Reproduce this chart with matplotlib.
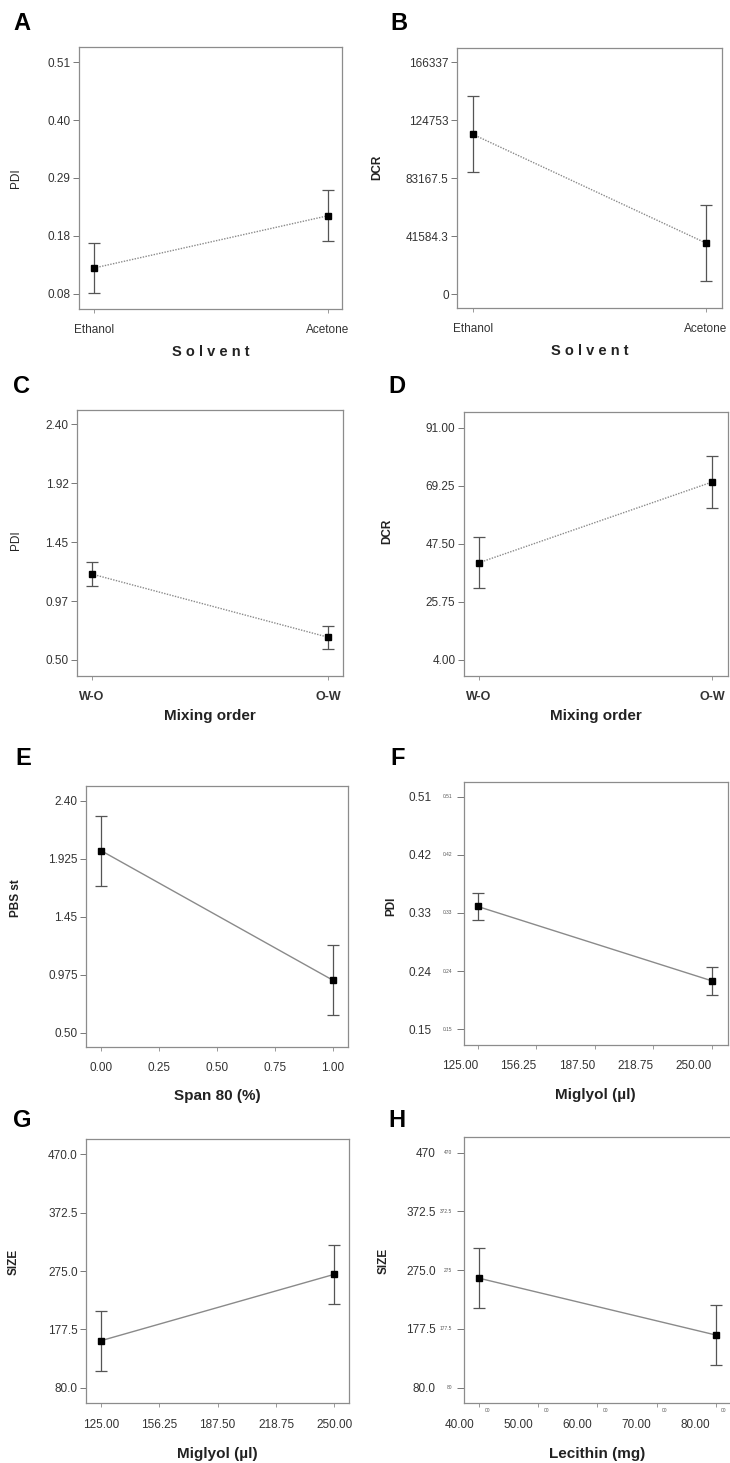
import matplotlib
matplotlib.use("Agg")
import matplotlib.pyplot as plt
import matplotlib.transforms as mtransforms
import numpy as np

plt.rcParams['font.family'] = ['Liberation Sans', 'DejaVu Sans']

# ---- data ----
solvent_cats = ['Ethanol', 'Acetone']
mixing_cats = ['W-O', 'O-W']
span_x = [0.0, 1.0]
miglyol_x = [125.0, 250.0]
lecithin_x = [40.0, 80.0]

a_pdi = [0.128, 0.225]
a_err = [0.047, 0.047]
b_dcr = [114700, 36600]
b_err = [27200, 27200]
c_pdi = [1.193, 0.683]
c_err = [0.095, 0.094]
d_dcr = [40.4, 70.7]
d_err = [9.6, 9.6]
e_pbs = [1.99, 0.93]
e_err = [0.285, 0.285]
f_pdi = [0.340, 0.225]
f_err = [0.0215, 0.0215]
g_size = [158.5, 269.5]
g_err = [50.0, 49.5]
h_size = [261.6, 167.5]
h_err = [49.7, 49.2]

a_yt = ['0.08', '0.18', '0.29', '0.40', '0.51']
b_yt = ['0', '41584.3', '83167.5', '124753', '166337']
c_yt = ['0.50', '0.97', '1.45', '1.92', '2.40']
d_yt = ['4.00', '25.75', '47.50', '69.25', '91.00']
e_yt = ['0.50', '0.975', '1.45', '1.925', '2.40']
f_yt = ['0.15', '0.24', '0.33', '0.42', '0.51']
g_yt = ['80.0', '177.5', '275.0', '372.5', '470.0']
h_yt = ['80.0', '177.5', '275.0', '372.5', '470']
h_yt_small = ['80', '177.5', '275', '372.5', '470']
e_xt = ['0.00', '0.25', '0.50', '0.75', '1.00']
mig_xt = ['125.00', '156.25', '187.50', '218.75', '250.00']
lec_xt = ['40.00', '50.00', '60.00', '70.00', '80.00']

W, H = 730, 1463
fig = plt.figure(figsize=(W / 100, H / 100), dpi=100)
fig.patch.set_facecolor('white')

TXT = '#333333'
NARROW = ['Liberation Sans Narrow', 'Liberation Sans', 'DejaVu Sans']


def make_ax(left, right, top, bottom):
    return fig.add_axes([left / W, 1 - bottom / H, (right - left) / W, (bottom - top) / H])


def letter(s, x, y):
    # x = left edge px, y = baseline px
    fig.text(x / W, 1 - y / H, s, fontsize=17, fontweight='bold', color='black',
             ha='left', va='baseline')


def panel(ax, x, y, err, ylo, yhi, yt, xlim, ylim, ylabel, xlabel,
          dotted, ylab_pos, xlab_pad, ybold=True):
    ax.plot(x, y, color='#8a8a8a', lw=1.0, ls=(0, (1, 1)) if dotted else '-', zorder=2)
    ax.errorbar(x, y, yerr=err, fmt='s', color='black', ms=3.8, ecolor='#555555',
                elinewidth=0.9, capsize=4, capthick=0.9, zorder=3)
    ax.set_xlim(*xlim)
    ax.set_ylim(*ylim)
    ax.set_yticks(np.linspace(ylo, yhi, 5))
    ax.set_yticklabels(yt)
    for s in ax.spines.values():
        s.set_color('#8c8c8c')
        s.set_linewidth(0.9)
    ax.tick_params(axis='y', direction='out', length=4, width=0.7, color='#777777',
                   labelsize=8.5, labelcolor=TXT, pad=2)
    ax.tick_params(axis='x', direction='out', length=3, width=0.7, color='#999999',
                   labelcolor=TXT, pad=8)
    ax.set_ylabel(ylabel, fontsize=8.5, color='#222222',
                  fontweight='bold' if ybold else 'normal')
    ax.yaxis.set_label_coords(*ylab_pos)
    ax.set_xlabel(xlabel, fontsize=11, fontweight='bold', color='#222222', labelpad=xlab_pad)


# A
ax = make_ax(79, 342, 47, 309)
panel(ax, [0, 1], a_pdi, a_err, 0.08, 0.51, a_yt, (-0.064, 1.06), (0.052, 0.538),
      'PDI', 'Solvent', True, (-0.217, 0.5), 6, ybold=False)
ax.set_xticks([0, 1])
ax.set_xticklabels(solvent_cats, fontsize=8.5, family=NARROW)
ax.set_xlabel('S o l v e n t', fontsize=10.5, fontweight='bold', color='#222222', labelpad=6)
letter('A', 13, 30)

# B
ax = make_ax(457, 722, 48, 308)
panel(ax, [0, 1], b_dcr, b_err, 0, 166337, b_yt, (-0.067, 1.069), (-10037, 176590),
      'DCR', 'Solvent', True, (-0.279, 0.54), 6)
ax.set_xticks([0, 1])
ax.set_xticklabels(solvent_cats, fontsize=8.5, family=NARROW)
ax.set_xlabel('S o l v e n t', fontsize=10.5, fontweight='bold', color='#222222', labelpad=6)
letter('B', 390, 30)

# C
ax = make_ax(77, 343, 410, 676)
panel(ax, [0, 1], c_pdi, c_err, 0.5, 2.4, c_yt, (-0.062, 1.062), (0.371, 2.515),
      'PDI', 'Mixing order', True, (-0.207, 0.51), 4, ybold=False)
ax.set_xticks([0, 1])
ax.set_xticklabels(mixing_cats, fontsize=9, fontweight='bold')
letter('C', 13, 393)

# D
ax = make_ax(463.7, 727.7, 412.3, 676)
panel(ax, [0, 1], d_dcr, d_err, 4, 91, d_yt, (-0.064, 1.066), (-2.0, 96.8),
      'DCR', 'Mixing order', True, (-0.268, 0.55), 4)
ax.set_xticks([0, 1])
ax.set_xticklabels(mixing_cats, fontsize=9, fontweight='bold')
letter('D', 388, 393)

# E
ax = make_ax(86, 348.3, 785.7, 1046.7)
panel(ax, span_x, e_pbs, e_err, 0.5, 2.4, e_yt, (-0.066, 1.067), (0.385, 2.523),
      'PBS st', 'Span 80 (%)', False, (-0.244, 0.57), 11)
ax.set_xticks(np.linspace(0, 1, 5))
ax.set_xticklabels(e_xt, fontsize=8.5, family=NARROW)
letter('E', 15, 765)

# F
ax = make_ax(463.7, 727.7, 781.7, 1045)
panel(ax, miglyol_x, f_pdi, f_err, 0.15, 0.51, f_yt, (117.5, 258.5), (0.1257, 0.533),
      'PDI', 'Miglyol (\u00b5l)', False, (-0.253, 0.525), 11)
ax.set_xticks(np.linspace(125, 250, 5))
ax.set_xticklabels(mig_xt, fontsize=8.5, family=NARROW)
shift = mtransforms.ScaledTranslation(-0.18, 0, fig.dpi_scale_trans)
for lab in ax.get_xticklabels():
    lab.set_transform(lab.get_transform() + shift)
ax.tick_params(axis='y', length=5, pad=18)
ytr = mtransforms.blended_transform_factory(ax.transAxes, ax.transData)
for v, s in zip(np.linspace(0.15, 0.51, 5), f_yt):
    ax.text(-0.044, v, s, transform=ytr, fontsize=3.5, color='#555555', ha='right', va='center')
letter('F', 390, 765)

# G
ax = make_ax(86, 349.3, 1139, 1403.3)
panel(ax, miglyol_x, g_size, g_err, 80, 470, g_yt, (117, 258), (53.9, 495.6),
      'SIZE', 'Miglyol (\u00b5l)', False, (-0.251, 0.535), 12)
ax.set_xticks(np.linspace(125, 250, 5))
ax.set_xticklabels(mig_xt, fontsize=8.5, family=NARROW)
letter('G', 13, 1127)

# H
ax = make_ax(463.7, 731, 1137.3, 1403.3)
panel(ax, lecithin_x, h_size, h_err, 80, 470, h_yt, (37.35, 82.6), (54.1, 495.6),
      'SIZE', 'Lecithin (mg)', False, (-0.277, 0.537), 12)
ax.set_xticks(np.linspace(40, 80, 5))
ax.set_xticklabels(lec_xt, fontsize=8.5, family=NARROW)
shift = mtransforms.ScaledTranslation(-0.2, 0, fig.dpi_scale_trans)
for lab in ax.get_xticklabels():
    lab.set_transform(lab.get_transform() + shift)
ax.tick_params(axis='y', length=5, pad=15)
ytr = mtransforms.blended_transform_factory(ax.transAxes, ax.transData)
for v, s in zip(np.linspace(80, 470, 5), h_yt_small):
    ax.text(-0.044, v, s, transform=ytr, fontsize=3.5, color='#555555', ha='right', va='center')
xtr = mtransforms.blended_transform_factory(ax.transData, ax.transAxes)
for v in np.linspace(40, 80, 5):
    ax.text(v, -0.018, '00', transform=xtr + mtransforms.ScaledTranslation(0.05, 0, fig.dpi_scale_trans),
            fontsize=3.5, color='#555555', ha='left', va='top')
letter('H', 388, 1127)

fig.savefig('out.png', dpi=100, facecolor='white')
